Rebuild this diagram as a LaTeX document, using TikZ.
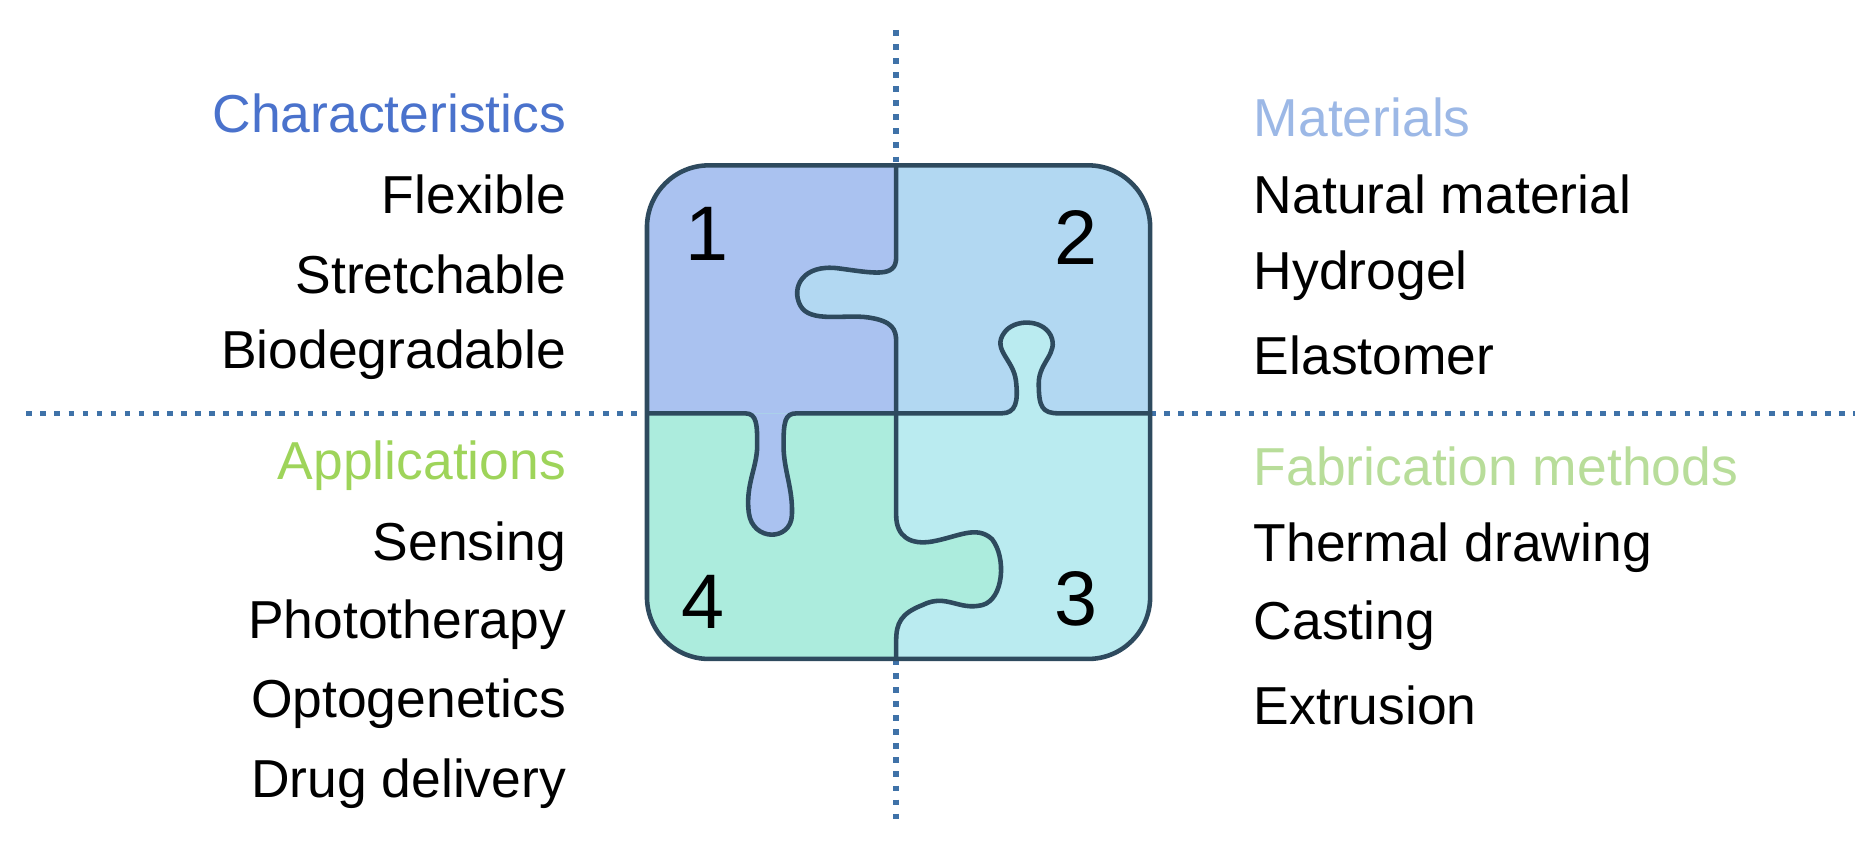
\documentclass[tikz,border=0pt]{standalone}
\usepackage{fontspec}
\setmainfont{Liberation Sans}
\begin{document}
\begin{tikzpicture}[x=0.01198cm,y=-0.01198cm,
  lab/.style={font=\fontsize{15.2}{17}\selectfont,inner sep=0pt},
  lft/.style={lab,anchor=east},
  rgt/.style={lab,anchor=west},
  num/.style={font=\fontsize{22}{24}\selectfont,inner sep=0pt},
  dot/.style={draw=dotc,line width=1.6pt,dash pattern=on 1.6pt off 2.4pt},
  edge/.style={draw=edgec,line width=1.3pt},
  rc/.style={rounded corners=0.62cm}]
\definecolor{dotc}{HTML}{3F72A8}
\definecolor{edgec}{HTML}{2E4A5E}
\definecolor{pA}{HTML}{AAC2F0}
\definecolor{pB}{HTML}{B2D8F2}
\definecolor{pC}{HTML}{BAEBF0}
\definecolor{pD}{HTML}{ACECDD}
\definecolor{cblue}{HTML}{4A72CC}
\definecolor{cgreen}{HTML}{9ED45A}
\definecolor{cmat}{HTML}{9CB8E6}
\definecolor{cfab}{HTML}{B8DD9A}
\useasboundingbox (0,0) rectangle (1560,709);
% puzzle fills
\begin{scope}
\clip[rc] (540,138) rectangle (960,550);
\fill[pA] (540,138) rectangle (748,345);
\fill[pB] (748,138) rectangle (960,345);
\fill[pC] (748,345) rectangle (960,550);
\fill[pD] (540,345) rectangle (748,550);
\fill[pB] (748,215) .. controls (748,232) and (730,228) .. (700,224) .. controls (670,220) and (660,240) .. (668,255) .. controls (676,270) and (705,262) .. (725,265) .. controls (745,268) and (748,275) .. (748,285) -- cycle;
\fill[pC] (836,345) .. controls (848,345) and (850,335) .. (848,318) .. controls (846,300) and (828,292) .. (838,278) .. controls (846,266) and (870,266) .. (877,280) .. controls (884,295) and (867,302) .. (867,320) .. controls (867,340) and (870,345) .. (884,345) -- cycle;
\fill[pA] (622,345) .. controls (632,345) and (632,355) .. (632,372) .. controls (632,390) and (622,405) .. (625,428) .. controls (628,452) and (660,452) .. (661,430) .. controls (662,408) and (654,392) .. (654,372) .. controls (654,352) and (655,345) .. (665,345) -- cycle;
\fill[pD] (748,430) .. controls (748,448) and (760,455) .. (778,452) .. controls (800,448) and (815,438) .. (828,450) .. controls (840,465) and (838,500) .. (820,505) .. controls (800,510) and (790,495) .. (770,505) .. controls (752,512) and (748,520) .. (748,535) -- cycle;
\end{scope}
% dotted axes
\coordinate (vt) at (748,25); \coordinate (vb) at (748,685);
\coordinate (hl) at (22,345); \coordinate (hr) at (1548,345);
\draw[dot] (vt) -- (748,138);
\draw[dot] (748,550) -- (vb);
\draw[dot] (hl) -- (540,345);
\draw[dot] (960,345) -- (hr);
% piece edges
\draw[edge] (748,138) -- (748,215) .. controls (748,232) and (730,228) .. (700,224) .. controls (670,220) and (660,240) .. (668,255) .. controls (676,270) and (705,262) .. (725,265) .. controls (745,268) and (748,275) .. (748,285) -- (748,430) .. controls (748,448) and (760,455) .. (778,452) .. controls (800,448) and (815,438) .. (828,450) .. controls (840,465) and (838,500) .. (820,505) .. controls (800,510) and (790,495) .. (770,505) .. controls (752,512) and (748,520) .. (748,535) -- (748,550);
\draw[edge] (540,345) -- (622,345) .. controls (632,345) and (632,355) .. (632,372) .. controls (632,390) and (622,405) .. (625,428) .. controls (628,452) and (660,452) .. (661,430) .. controls (662,408) and (654,392) .. (654,372) .. controls (654,352) and (655,345) .. (665,345) -- (836,345) .. controls (848,345) and (850,335) .. (848,318) .. controls (846,300) and (828,292) .. (838,278) .. controls (846,266) and (870,266) .. (877,280) .. controls (884,295) and (867,302) .. (867,320) .. controls (867,340) and (870,345) .. (884,345) -- (960,345);
\draw[edge,rc] (540,138) rectangle (960,550);
% numbers
\node[num] (n1) at (590,195) {1};
\node[num] (n2) at (898,198) {2};
\node[num] (n3) at (898,500) {3};
\node[num] (n4) at (587,502) {4};
% left texts
\node[lft,text=cblue] (c0) at (473,95) {Characteristics};
\node[lft] (c1) at (473,162) {Flexible};
\node[lft] (c2) at (473,229) {Stretchable};
\node[lft] (c3) at (473,296) {Biodegradable};
\node[lft,text=cgreen] (a0) at (473,389) {Applications};
\node[lft] (a1) at (473,456) {Sensing};
\node[lft] (a2) at (473,521) {Phototherapy};
\node[lft] (a3) at (473,587) {Optogenetics};
\node[lft] (a4) at (473,654) {Drug delivery};
% right texts
\node[rgt,text=cmat] (m0) at (1046,98) {Materials};
\node[rgt] (m1) at (1046,162) {Natural material};
\node[rgt] (m2) at (1046,230) {Hydrogel};
\node[rgt] (m3) at (1046,297) {Elastomer};
\node[rgt,text=cfab] (f0) at (1046,389) {Fabrication methods};
\node[rgt] (f1) at (1046,457) {Thermal drawing};
\node[rgt] (f2) at (1046,522) {Casting};
\node[rgt] (f3) at (1046,589) {Extrusion};
\end{tikzpicture}
\end{document}
